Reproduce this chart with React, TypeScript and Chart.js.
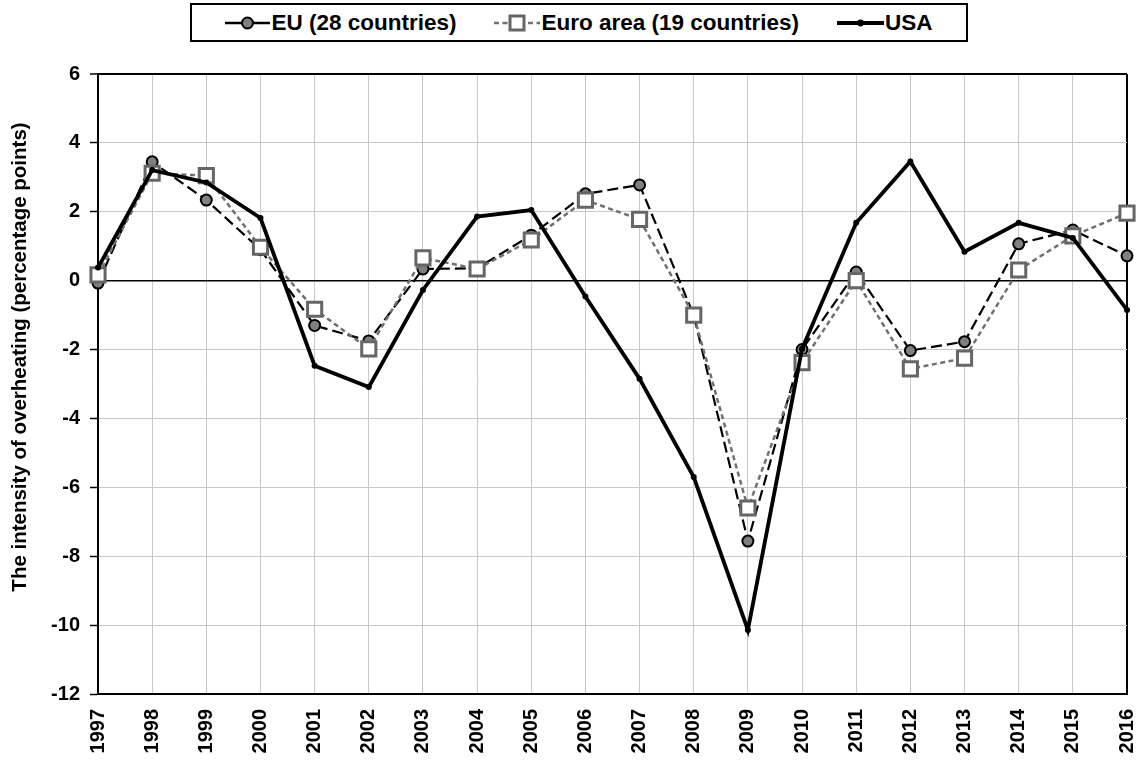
import React, { useEffect, useRef } from "react";
import { Chart, registerables } from "chart.js";

Chart.register(...registerables);

const years = ["1997","1998","1999","2000","2001","2002","2003","2004","2005","2006","2007","2008","2009","2010","2011","2012","2013","2014","2015","2016"];
const euValues = [-0.07, 3.45, 2.34, 0.9, -1.3, -1.75, 0.34, 0.36, 1.32, 2.52, 2.78, -1.0, -7.56, -2.0, 0.25, -2.03, -1.77, 1.07, 1.47, 0.72];
const euroValues = [0.17, 3.12, 3.05, 0.97, -0.83, -1.98, 0.66, 0.34, 1.18, 2.34, 1.78, -1.0, -6.6, -2.38, 0.0, -2.56, -2.25, 0.31, 1.3, 1.96];
const usaValues = [0.38, 3.21, 2.85, 1.82, -2.47, -3.09, -0.27, 1.86, 2.05, -0.46, -2.85, -5.7, -10.14, -1.98, 1.68, 3.46, 0.84, 1.68, 1.24, -0.85];
const seriesNames = ["EU (28 countries)", "Euro area (19 countries)", "USA"];
const yTitle = "The intensity of overheating (percentage points)";

const FONT = "'Liberation Sans', Arial, Helvetica, sans-serif";

function LegendSymbol({ kind }: { kind: number }) {
  if (kind === 0) {
    return (
      <svg width="45" height="20" style={{ display: "block" }}>
        <line x1="0" y1="10" x2="45" y2="10" stroke="#000" strokeWidth="2.5" />
        <circle cx="22.5" cy="10" r="5.5" fill="#808080" stroke="#000" strokeWidth="2" />
      </svg>
    );
  }
  if (kind === 1) {
    return (
      <svg width="46" height="20" style={{ display: "block" }}>
        <line x1="0" y1="10" x2="46" y2="10" stroke="#707070" strokeWidth="2.5" strokeDasharray="5 3.5" />
        <rect x="16" y="3" width="14" height="14" fill="#fff" stroke="#666" strokeWidth="3" />
      </svg>
    );
  }
  return (
    <svg width="47" height="20" style={{ display: "block" }}>
      <line x1="0" y1="10" x2="47" y2="10" stroke="#000" strokeWidth="4" />
      <circle cx="23.5" cy="10" r="3.4" fill="#000" />
    </svg>
  );
}

const yTitlePlugin = {
  id: "yTitleText",
  afterDraw(chart: any) {
    const ctx = chart.ctx;
    ctx.save();
    ctx.translate(20, 357);
    ctx.rotate(-Math.PI / 2);
    ctx.font = `bold 20.5px ${FONT}`;
    ctx.fillStyle = "#000";
    ctx.textAlign = "center";
    ctx.textBaseline = "middle";
    ctx.fillText(yTitle, 0, 0);
    ctx.restore();
  },
};

export default function App() {
  const canvasRef = useRef<HTMLCanvasElement | null>(null);

  useEffect(() => {
    const canvas = canvasRef.current;
    if (!canvas) return;
    const chart = new Chart(canvas, {
      type: "line",
      data: {
        labels: years,
        datasets: [
          {
            label: seriesNames[0],
            data: euValues,
            borderColor: "#000",
            borderWidth: 2.2,
            borderDash: [11, 5],
            pointStyle: "circle",
            pointRadius: 5.5,
            pointBorderWidth: 2,
            pointBackgroundColor: "#808080",
            pointBorderColor: "#000",
            tension: 0,
            order: 3,
          },
          {
            label: seriesNames[1],
            data: euroValues,
            borderColor: "#707070",
            borderWidth: 2.5,
            borderDash: [5, 3.5],
            pointStyle: "rect",
            pointRadius: 10,
            pointBorderWidth: 3,
            pointBackgroundColor: "#ffffff",
            pointBorderColor: "#666666",
            tension: 0,
            order: 2,
          },
          {
            label: seriesNames[2],
            data: usaValues,
            borderColor: "#000",
            borderWidth: 3.8,
            pointStyle: "circle",
            pointRadius: 3,
            pointBorderWidth: 0,
            pointBackgroundColor: "#000",
            pointBorderColor: "#000",
            tension: 0,
            order: 1,
          },
        ],
      },
      options: {
        animation: false,
        responsive: false,
        maintainAspectRatio: false,
        devicePixelRatio: 1,
        layout: { padding: { top: 74, right: 14, left: 0, bottom: 0 } },
        plugins: {
          legend: { display: false },
          tooltip: { enabled: false },
          title: { display: false },
        },
        scales: {
          x: {
            type: "category",
            offset: false,
            afterFit: (s: any) => {
              s.height = 66;
              s.paddingLeft = 0;
              s.paddingRight = 0;
            },
            border: { display: true, color: "#000", width: 2 },
            grid: {
              drawTicks: false,
              color: (ctx: any) => (ctx.index === years.length - 1 ? "#000" : "#c8c8c8"),
              lineWidth: (ctx: any) => (ctx.index === years.length - 1 ? 2 : 1),
            },
            ticks: {
              minRotation: 90,
              maxRotation: 90,
              autoSkip: false,
              padding: 15,
              color: "#000",
              font: { family: FONT, size: 20, weight: "bold" },
            },
          },
          y: {
            min: -12,
            max: 6,
            afterFit: (s: any) => {
              s.width = 98;
              s.paddingTop = 0;
              s.paddingBottom = 0;
            },
            border: { display: true, color: "#000", width: 2 },
            grid: {
              color: (ctx: any) => {
                const v = ctx.tick ? ctx.tick.value : null;
                return v === 0 || v === 6 ? "#000" : "#c8c8c8";
              },
              lineWidth: (ctx: any) => {
                const v = ctx.tick ? ctx.tick.value : null;
                return v === 6 ? 2 : v === 0 ? 1.5 : 1;
              },
              tickColor: "#000",
              tickLength: 8,
              tickWidth: 1.5,
            },
            ticks: {
              stepSize: 2,
              padding: 10,
              color: "#000",
              font: { family: FONT, size: 20, weight: "bold" },
            },
            title: { display: false },
          },
        },
      },
      plugins: [yTitlePlugin],
    });
    return () => {
      chart.destroy();
    };
  }, []);

  return (
    <div style={{ position: "absolute", left: 0, top: 0, width: 1141, height: 760, background: "#fff", overflow: "hidden" }}>
      <canvas ref={canvasRef} width={1141} height={760} style={{ position: "absolute", left: 0, top: 0, display: "block" }} />
      <div
        style={{
          position: "absolute",
          left: 190,
          top: 3,
          width: 774,
          height: 35,
          border: "2px solid #000",
          background: "#fff",
          display: "flex",
          alignItems: "center",
          justifyContent: "center",
          gap: 38,
          fontFamily: FONT,
          fontWeight: "bold",
          fontSize: 22.5,
          color: "#000",
          whiteSpace: "nowrap",
        }}
      >
        {seriesNames.map((n, i) => (
          <div key={n} style={{ display: "flex", alignItems: "center" }}>
            <LegendSymbol kind={i} />
            <span style={{ marginLeft: 1 }}>{n}</span>
          </div>
        ))}
      </div>
    </div>
  );
}
